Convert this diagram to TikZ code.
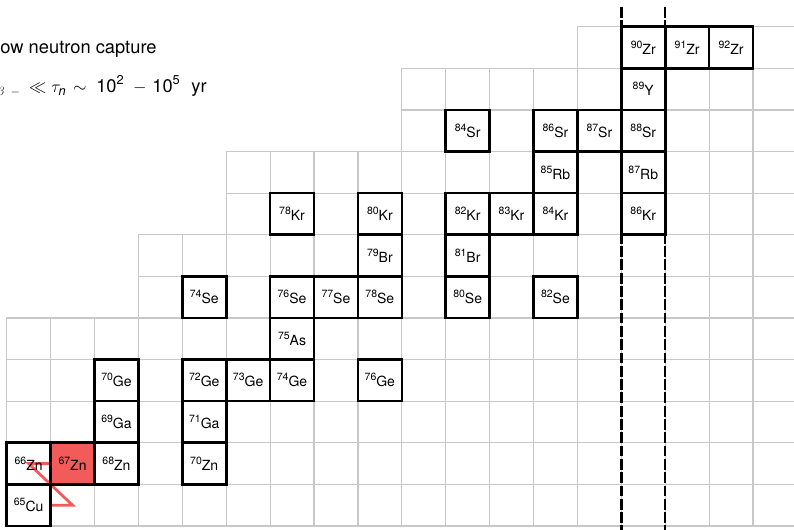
\documentclass[tikz,border=0pt]{standalone}
\usepackage{amsmath}
\usepackage{fontspec}
\setmainfont{TeX Gyre Heros}
\usetikzlibrary{backgrounds}
\definecolor{gridgray}{RGB}{200,200,200}
\definecolor{capred}{RGB}{243,90,90}
% mass number raised in front of the element symbol
\newcommand{\nuc}[2]{\raisebox{6pt}{\fontsize{10.5}{12}\selectfont #1}#2}
\tikzset{
  gridline/.style={draw=gridgray, line width=1.2pt, line cap=rect},
  isobox/.style={draw=black, line width=2.6pt, minimum width=43.9pt,
    minimum height=41.6pt, inner sep=0pt, font=\fontsize{14}{16}\selectfont},
  magicline/.style={draw=black, line width=2.4pt, dash pattern=on 10.8pt off 2.5pt},
  spath/.style={draw=capred, line width=2.8pt},
  caption/.style={anchor=base west, inner sep=0pt, font=\fontsize{18.3}{22}\selectfont},
}
\begin{document}
\begin{tikzpicture}[x=43.9pt,y=-41.6pt]
\useasboundingbox (-0.15262,-0.64423) rectangle (17.934,12.0962);
\clip (-0.15262,-0.64423) rectangle (17.934,12.0962);

% isotopes: (column = N, row = Z from top)
\foreach \c/\r/\n/\m/\s in {
  14/0/zr90/90/Zr, 15/0/zr91/91/Zr, 16/0/zr92/92/Zr,
  14/1/y89/89/Y,
  10/2/sr84/84/Sr, 12/2/sr86/86/Sr, 13/2/sr87/87/Sr, 14/2/sr88/88/Sr,
  12/3/rb85/85/Rb, 14/3/rb87/87/Rb,
  6/4/kr78/78/Kr, 8/4/kr80/80/Kr, 10/4/kr82/82/Kr, 11/4/kr83/83/Kr, 12/4/kr84/84/Kr, 14/4/kr86/86/Kr,
  8/5/br79/79/Br, 10/5/br81/81/Br,
  4/6/se74/74/Se, 6/6/se76/76/Se, 7/6/se77/77/Se, 8/6/se78/78/Se, 10/6/se80/80/Se, 12/6/se82/82/Se,
  6/7/as75/75/As,
  2/8/ge70/70/Ge, 4/8/ge72/72/Ge, 5/8/ge73/73/Ge, 6/8/ge74/74/Ge, 8/8/ge76/76/Ge,
  2/9/ga69/69/Ga, 4/9/ga71/71/Ga,
  0/10/zn66/66/Zn, 2/10/zn68/68/Zn, 4/10/zn70/70/Zn,
  0/11/cu65/65/Cu}
  \node[isobox] (\n) at (\c+0.5,\r+0.5) {\nuc{\m}{\s}};
\node[isobox, fill=capred] (zn67) at (1.5,10.5) {\nuc{67}{Zn}};

\begin{scope}[on background layer]
  \clip (-0.15262,-0.64423) rectangle (17.934,12.0962);
  % staircase grid of the chart
  \foreach \r/\s in {0/13,1/9,2/9,3/5,4/5,5/3,6/3,7/0,8/0,9/0,10/0,11/0,12/0}
    \draw[gridline] (\s,\r) -- (18.5,\r);
  \foreach \c/\t in {0/7,1/7,2/7,3/5,4/5,5/3,6/3,7/3,8/3,9/1,10/1,11/1,12/1,
                     13/0,14/0,15/0,16/0,17/0,18/0}
    \draw[gridline] (\c,\t) -- (\c,12);
  % s-process path
  \draw[spath] (cu65.east) -- (cu65 -| zn67) -- (zn66.center) -- (zn67.center);
\end{scope}

% magic neutron number N = 50
\coordinate (mtopA) at (14,-0.483);
\coordinate (mbotA) at (14,12.2);
\coordinate (mtopB) at (15,-0.483);
\coordinate (mbotB) at (15,12.2);
\draw[magicline] (mtopA) -- (mbotA);
\draw[magicline] (mtopB) -- (mbotB);

\node[caption] (title) at (-0.517,0.630) {Slow neutron capture};
\node[caption] (rate) at (-0.387,1.591)
  {$\tau_{\beta\hspace{6pt}-}\hspace{4pt}\ll\tau_{\textit{n}}\hspace{2pt}\sim\hspace{5pt}
    \text{10}^{\text{2}}\hspace{5pt}-\hspace{2pt}\text{10}^{\text{5}}$\hspace{6pt} yr};
\end{tikzpicture}
\end{document}
